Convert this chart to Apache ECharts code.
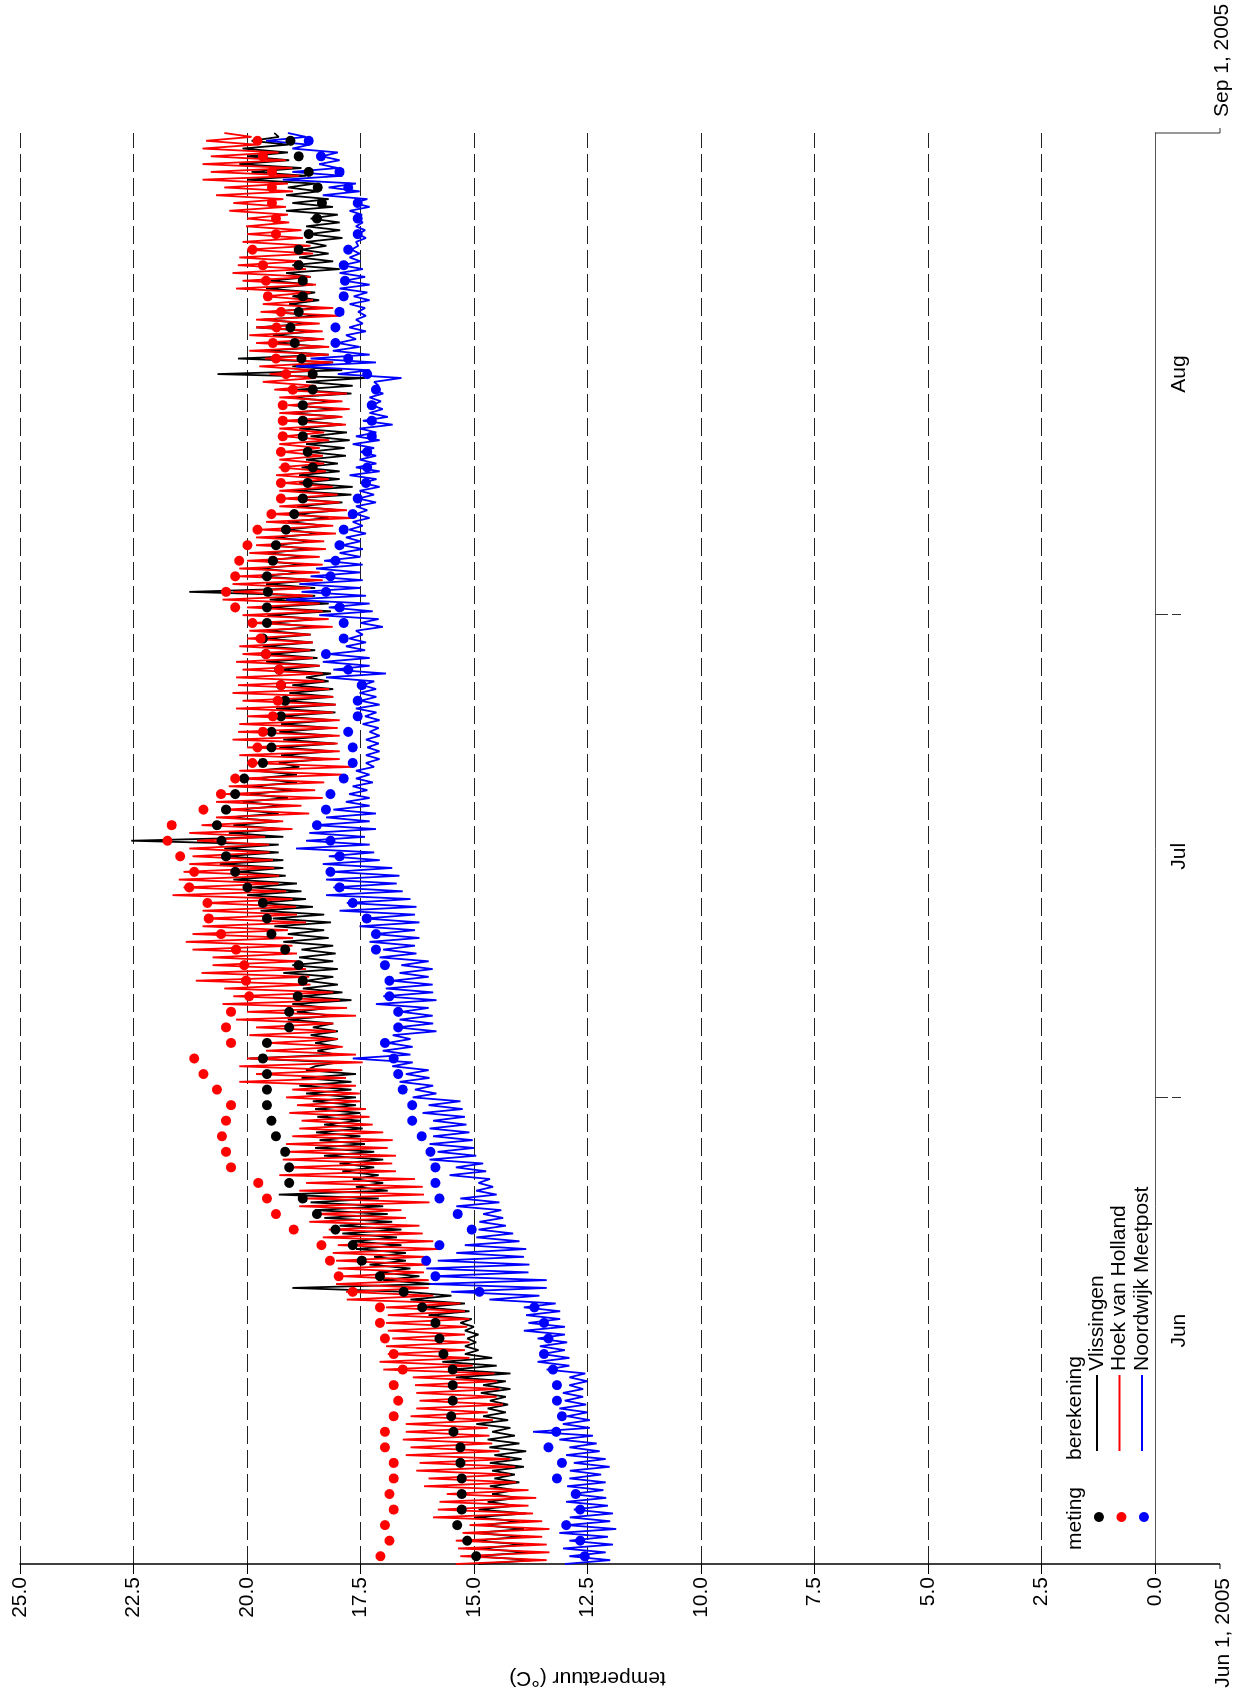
<!DOCTYPE html>
<html><head><meta charset="utf-8">
<script src="https://cdn.jsdelivr.net/npm/echarts@6/dist/echarts.min.js"></script>
<style>
html,body{margin:0;padding:0;width:1239px;height:1696px;overflow:hidden;background:#fff;}
#wrap{position:absolute;left:0;top:0;width:1696px;height:1239px;transform-origin:0 0;transform:translate(0,1696px) rotate(-90deg);}
#chart{width:1696px;height:1239px;}
</style></head><body>
<div id="wrap"><div id="chart"></div></div>
<script>
const FONT = "'Liberation Sans', Arial, Helvetica, sans-serif";
// time axis in days since Jun 1, 2005
const monthLabels = ['Jun', 'Jul', 'Aug'];
const monthCenters = [15, 45.5, 76.5];
const monthBounds = [30, 61];
const periodLabels = ['Jun 1, 2005', 'Sep 1, 2005'];
const periodDays = [0, 92];
const stepsPerDay = 4; // calculated series: one value every 6 hours
const seriesNames = ['Vlissingen', 'Hoek van Holland', 'Noordwijk Meetpost'];
const legendHeaders = ['meting', 'berekening'];
const yTitle = 'temperatuur (°C)';

// measurements (meting), one per day (noon)
const vlisMeting = [14.95,15.15,15.37,15.27,15.27,15.27,15.3,15.3,15.45,15.5,
15.47,15.47,15.47,15.67,15.76,15.85,16.14,16.55,17.07,17.47,
17.67,18.05,18.46,18.77,19.07,19.07,19.16,19.36,19.46,19.56,
19.56,19.56,19.65,19.56,19.07,19.07,18.88,18.77,18.86,19.16,
19.46,19.56,19.65,19.99,20.26,20.46,20.56,20.66,20.46,20.26,
20.06,19.65,19.46,19.46,19.25,19.16,19.25,19.29,19.58,19.65,
19.56,19.56,19.54,19.56,19.43,19.36,19.14,18.96,18.77,18.66,
18.55,18.66,18.77,18.77,18.77,18.55,18.55,18.8,18.95,19.04,
18.86,18.77,18.77,18.86,18.86,18.64,18.46,18.35,18.44,18.64,
18.86,19.04];
const hvhMeting = [17.06,16.86,16.96,16.77,16.86,16.77,16.77,16.96,16.96,16.77,
16.67,16.77,16.57,16.77,16.96,17.07,17.07,17.67,17.98,18.17,
18.36,18.97,19.36,19.56,19.75,20.35,20.46,20.55,20.46,20.35,
20.66,20.96,21.16,20.35,20.46,20.35,19.95,20.02,20.06,20.24,
20.57,20.84,20.87,21.27,21.16,21.47,21.75,21.66,20.96,20.57,
20.26,19.88,19.77,19.65,19.43,19.32,19.25,19.29,19.58,19.7,
19.88,20.26,20.46,20.26,20.17,19.99,19.77,19.46,19.25,19.25,
19.16,19.25,19.21,19.21,19.21,18.99,19.14,19.36,19.43,19.35,
19.25,19.54,19.58,19.65,19.88,19.36,19.36,19.45,19.45,19.45,
19.65,19.77];
const nwkMeting = [12.56,12.66,12.97,12.66,12.76,13.17,13.06,13.36,13.19,13.06,
13.17,13.17,13.26,13.46,13.36,13.46,13.67,14.88,15.85,16.05,
15.76,15.05,15.36,15.76,15.85,15.85,15.96,16.15,16.36,16.36,
16.57,16.67,16.77,16.96,16.67,16.67,16.86,16.86,16.96,17.16,
17.16,17.36,17.67,17.96,18.16,17.96,18.16,18.46,18.26,18.16,
17.87,17.67,17.67,17.77,17.56,17.56,17.47,17.77,18.26,17.87,
17.87,17.96,18.26,18.16,18.05,17.96,17.87,17.67,17.56,17.38,
17.35,17.35,17.25,17.25,17.25,17.16,17.35,17.77,18.05,18.05,
17.96,17.87,17.84,17.87,17.77,17.56,17.56,17.56,17.77,17.96,
18.37,18.64];

// calculations (berekening), 4 values per day
const vlisCalc = [
14.9,13.7,15.0,13.8, 14.9,13.9,15.0,13.95, 14.95,13.9,14.8,14.0, 15.0,13.85,14.9,14.1, 14.7,14.05,14.6,14.1,
14.65,14.0,14.55,14.1, 14.6,13.9,14.65,13.95, 14.55,13.85,14.66,14.0, 14.7,14.1,14.6,14.2, 14.95,14.25,14.8,14.3,
14.7,14.25,14.65,14.3, 14.85,14.2,14.8,14.3, 15.4,14.2,15.5,14.5, 15.7,14.6,15.2,14.9, 15.2,14.95,15.15,14.9,
15.2,15.0,15.3,15.05, 16.0,15.1,16.1,15.2, 16.4,15.5,16.5,19.0, 15.9,17.0,16.2,17.1, 16.4,17.3,16.5,17.2,
16.5,17.6,16.6,17.7, 16.7,17.9,16.6,17.96, 16.8,18.3,16.9,18.5, 17.0,18.6,17.1,19.3, 16.9,17.6,17.0,17.67,
17.1,17.9,17.2,17.96, 17.0,18.3,17.2,18.5, 17.4,18.4,17.5,18.48, 17.45,18.3,17.5,18.45, 17.5,18.5,17.6,18.55,
17.6,18.7,17.7,18.85, 17.7,18.8,17.6,18.7, 18.5,18.0,19.95,18.05, 18.45,17.96,18.5,18.0, 18.6,18.0,18.55,18.1,
19.1,18.1,18.9,18.2, 19.0,17.7,18.8,17.9, 18.77,18.0,18.7,18.1, 19.2,18.0,19.0,18.1, 18.85,18.05,18.8,18.1,
19.2,18.2,19.1,18.3, 19.4,18.15,19.43,18.3, 19.7,18.55,19.73,18.7, 20.0,18.8,19.9,18.9, 20.3,19.15,20.2,19.2,
20.6,19.2,20.5,19.3, 20.5,19.3,22.55,19.2, 20.4,19.2,20.3,19.3, 20.4,19.3,20.2,19.2, 20.1,19.1,19.95,19.0,
19.9,18.9,19.85,18.9, 19.8,18.85,19.3,18.3, 19.25,18.1,19.29,18.05, 19.2,18.1,19.29,18.15, 19.25,18.1,19.3,18.05,
19.36,18.05,19.2,18.1, 19.07,18.1,19.0,18.2, 18.7,18.15,19.3,18.4, 19.58,18.45,19.5,18.5, 19.65,18.55,19.6,18.6,
19.58,18.5,19.5,18.48, 19.55,18.15,19.58,18.2, 19.5,18.5,21.27,18.5, 19.58,18.5,19.7,18.8, 19.73,18.75,19.7,18.7,
19.6,18.6,19.43,18.55, 19.4,18.4,19.14,18.26, 19.1,18.2,18.92,17.96, 18.9,17.9,19.07,17.7, 19.0,17.67,18.85,17.96,
18.85,17.96,18.8,18.0, 18.7,17.82,18.65,17.85, 18.7,17.74,18.6,17.8, 18.85,17.9,18.8,17.95, 19.07,18.05,19.0,18.1,
19.07,17.7,18.9,17.67, 18.7,17.4,20.65,17.9, 19.0,18.1,20.2,18.2, 19.6,18.3,19.4,18.4, 19.43,18.55,19.8,18.6,
19.65,18.35,19.5,18.4, 19.07,18.41,19.0,18.5, 19.58,18.55,19.5,18.6, 19.14,17.96,19.0,18.1, 18.85,18.2,18.8,18.25,
18.7,17.9,18.65,17.95, 18.7,17.96,18.6,18.0, 19.14,18.11,19.0,18.2, 19.14,18.41,19.1,18.5, 20.0,18.7,19.9,18.8,
20.17,19.07,20.0,19.1, 20.1,19.1,19.9,19.3, 19.4];
const hvhCalc = [
15.4,13.4,15.3,13.34, 15.35,13.4,15.4,13.5, 15.25,13.34,15.1,13.5, 15.9,13.7,15.8,13.8, 15.76,13.63,15.6,13.8,
16.1,14.07,16.0,14.2, 16.27,14.1,16.2,14.2, 16.5,14.44,16.4,14.6, 16.57,14.66,16.5,14.7, 16.5,14.58,16.4,14.7,
16.27,14.36,16.2,14.5, 16.27,14.44,16.3,14.5, 16.35,14.55,17.0,15.03, 17.08,15.1,16.9,15.2, 16.94,15.1,16.8,15.2,
16.9,15.15,16.94,15.1, 16.9,15.2,16.94,15.3, 17.8,15.9,17.82,16.0, 18.04,16.0,17.9,16.1, 18.0,16.0,18.04,16.1,
18.11,15.76,18.0,15.9, 18.33,16.13,18.2,16.2, 18.63,16.5,18.5,16.6, 18.85,15.98,18.7,16.1, 18.85,16.13,18.7,16.3,
19.29,16.72,19.1,16.8, 19.21,16.72,19.1,16.9, 19.14,16.79,19.0,17.0, 18.85,17.23,18.8,17.3, 19.07,17.38,18.9,17.5,
19.14,17.52,19.0,17.6, 20.17,17.82,19.8,17.9, 20.17,17.45,20.0,17.6, 19.58,17.89,19.5,18.0, 19.95,18.04,19.8,18.1,
20.24,17.6,20.0,17.8, 20.54,17.96,20.3,18.1, 20.5,18.6,21.13,18.63, 21.0,18.7,20.76,18.85, 20.76,18.9,21.2,19.0,
21.35,18.99,21.2,19.1, 20.98,18.7,20.9,18.9, 20.98,18.92,20.9,19.0, 21.64,19.14,21.4,19.3, 21.5,19.29,21.4,19.4,
21.27,19.43,21.2,19.5, 21.27,19.51,21.1,19.6, 21.27,19.0,21.0,19.2, 20.68,18.63,20.5,18.8, 20.68,18.33,20.5,18.5,
20.4,18.3,20.17,17.9, 20.17,17.67,20.0,17.96, 20.17,17.96,20.0,18.0, 20.32,17.96,20.2,18.0, 20.17,17.96,20.0,18.1,
20.24,18.04,20.1,18.1, 20.32,18.19,20.2,18.3, 20.24,18.33,20.1,18.4, 20.24,18.55,20.1,18.6, 20.17,18.55,20.0,18.6,
19.95,18.11,19.9,18.2, 20.1,18.33,20.0,18.4, 20.54,18.55,20.3,18.6, 20.32,18.33,20.2,18.4, 20.17,18.33,20.0,18.4,
19.95,18.26,19.8,18.3, 19.8,18.04,19.7,18.1, 19.58,17.67,19.5,17.8, 19.29,17.96,19.2,18.0, 19.29,18.11,19.2,18.2,
19.36,18.26,19.3,18.3, 19.29,18.33,19.2,18.4, 19.29,18.19,19.2,18.3, 19.29,17.82,19.2,17.9, 19.29,17.74,19.1,17.9,
19.29,17.8,19.4,18.48, 19.65,18.48,19.5,18.5, 19.73,18.11,19.6,18.2, 19.95,18.19,19.8,18.3, 19.95,18.33,19.8,18.4,
19.8,17.96,19.7,18.1, 19.65,18.55,19.6,18.6, 20.24,18.48,20.1,18.6, 20.32,18.7,20.2,18.8, 20.17,18.55,20.0,18.6,
20.1,18.77,20.0,18.8, 20.02,19.07,20.0,19.1, 20.39,19.14,20.3,19.2, 20.68,18.99,20.5,19.1, 20.98,18.85,20.8,19.0,
20.98,19.14,20.8,19.3, 20.98,19.8,20.9,19.9, 20.5];
const nwkCalc = [
13.0,12.0,12.9,12.1, 13.04,11.94,12.9,12.05, 13.12,11.87,12.95,12.0, 12.89,11.94,12.8,12.05, 12.97,12.09,12.85,12.15,
12.95,12.1,12.9,12.2, 12.89,12.01,12.8,12.1, 12.97,12.23,12.9,12.3, 13.12,12.38,13.7,12.45, 13.04,12.45,12.95,12.5,
13.12,12.53,13.0,12.6, 13.04,12.6,12.9,12.5, 12.9,12.55,13.4,12.9, 13.6,12.9,13.5,13.0, 13.55,12.95,13.6,13.0,
13.9,13.0,13.8,13.1, 13.85,13.1,13.9,13.2, 14.66,13.56,15.5,13.4, 15.98,13.4,15.9,13.8, 16.05,13.78,15.8,13.9,
15.39,13.85,15.2,14.0, 14.95,14.14,14.9,14.3, 14.88,14.36,14.8,14.4, 15.39,14.44,15.3,14.5, 14.95,14.58,14.9,14.65,
15.54,14.73,15.4,14.8, 15.98,14.95,15.8,15.0, 15.98,15.03,15.9,15.1, 15.98,15.17,15.9,15.2, 16.13,15.25,16.0,15.3,
16.35,15.83,16.3,15.9, 16.64,15.98,16.5,16.0, 16.8,16.35,17.67,16.4, 17.01,16.35,16.9,16.4, 16.79,15.83,16.7,15.9,
16.64,15.91,16.6,16.0, 17.16,15.83,17.0,15.9, 16.94,15.91,16.8,16.0, 16.64,15.91,16.6,16.0, 17.08,16.27,17.0,16.3,
17.3,16.2,17.2,16.3, 17.52,16.2,17.4,16.3, 17.96,16.27,17.8,16.4, 18.26,16.57,18.1,16.7, 18.26,16.64,18.1,16.8,
18.33,17.08,18.2,17.2, 18.92,17.3,18.7,17.4, 18.63,17.16,18.5,17.3, 18.26,17.16,18.1,17.3, 17.82,17.3,17.75,17.35,
17.67,17.23,17.6,17.3, 17.6,17.2,17.38,17.08, 17.38,17.08,17.35,17.1, 17.38,17.08,17.3,17.1, 17.45,17.08,17.4,17.15,
17.6,17.08,17.5,17.15, 17.52,17.16,17.45,17.2, 18.26,16.94,18.1,17.3, 18.33,17.3,18.2,17.4, 17.82,17.38,17.75,17.45,
17.6,17.01,17.5,17.1, 18.41,17.23,18.2,17.3, 19.14,17.38,18.8,17.5, 18.85,17.45,18.6,17.5, 18.48,17.45,18.3,17.5,
17.96,17.45,17.9,17.5, 17.82,17.38,17.75,17.45, 17.67,17.3,17.6,17.35, 17.6,17.16,17.55,17.2, 17.52,17.08,17.45,17.15,
17.74,17.08,17.6,17.15, 17.52,17.16,17.5,17.2, 17.67,17.08,17.6,17.15, 17.52,16.79,17.45,16.9, 17.3,17.01,17.25,17.05,
17.3,17.0,17.25,17.1, 17.2,16.6,18.0,17.3, 18.92,17.16,18.6,17.3, 18.11,17.52,18.0,17.6, 17.82,17.38,17.75,17.45,
17.6,17.38,17.55,17.4, 17.74,17.3,17.65,17.35, 17.96,17.3,17.85,17.4, 17.96,17.45,17.9,17.5, 17.74,17.52,17.7,17.55,
17.6,17.38,17.55,17.4, 17.6,17.45,17.58,17.47, 17.74,17.3,17.65,17.35, 18.33,17.52,18.2,17.6, 19.21,17.89,19.0,18.0,
18.41,17.96,18.35,18.0, 19.0,18.63,19.58,18.7, 19.1];

const colors = ['#000000', '#ff0000', '#0000ff'];
const calcArrays = [vlisCalc, hvhCalc, nwkCalc];
const metingArrays = [vlisMeting, hvhMeting, nwkMeting];

const lineData = arr => arr.map((v, i) => [i / stepsPerDay, v]);
const dotData = arr => arr.map((v, i) => [i + 0.5, v]);

const series = [];
calcArrays.forEach((arr, k) => series.push({
  name: seriesNames[k] + ' berekening', type: 'line', data: lineData(arr),
  showSymbol: false, symbol: 'none', lineStyle: { color: colors[k], width: 1.8 },
  itemStyle: { color: colors[k] }, z: 2, animation: false
}));
metingArrays.forEach((arr, k) => series.push({
  name: seriesNames[k] + ' meting', type: 'scatter', data: dotData(arr),
  symbol: 'circle', symbolSize: 10, itemStyle: { color: colors[k], opacity: 1 }, z: 3, animation: false
}));

const chart = echarts.init(document.getElementById('chart'), null, { renderer: 'canvas', width: 1696, height: 1239 });
chart.setOption({
  animation: false,
  textStyle: { fontFamily: FONT },
  grid: { left: 125, right: 133, top: 20, bottom: 84, containLabel: false },
  xAxis: {
    type: 'value', min: 0, max: 92,
    axisLine: { show: true, onZero: false, lineStyle: { color: '#555', width: 1 } },
    axisTick: { show: true, customValues: monthBounds, length: 26, lineStyle: { color: '#333', width: 1, type: [13, 4] } },
    axisLabel: { customValues: monthCenters, formatter: (v, i) => monthLabels[monthCenters.indexOf(v)] || monthLabels[i] || '',
      fontSize: 21, color: '#000', margin: 14, fontFamily: FONT },
    splitLine: { show: false }
  },
  yAxis: {
    type: 'value', min: 0, max: 25, interval: 2.5,
    axisLine: { show: true, lineStyle: { color: '#000', width: 1.5 } },
    axisTick: { show: true, length: 10, lineStyle: { color: '#000', width: 1 } },
    axisLabel: { formatter: v => v.toFixed(1), fontSize: 21, color: '#000', margin: 13, fontFamily: FONT },
    splitLine: { show: true, lineStyle: { color: '#222', width: 1, type: [18, 6] } },
    name: yTitle, nameLocation: 'middle', nameGap: 103, nameRotate: 90,
    nameTextStyle: { fontSize: 21, color: '#000', fontFamily: FONT }
  },
  series: series
});

// period bracket below the time axis and legend
const pStart = chart.convertToPixel({ gridIndex: 0 }, [periodDays[0], 0]);
const pEnd = chart.convertToPixel({ gridIndex: 0 }, [periodDays[1], 0]);
const bracketY = pStart[1] + 65;
const fontStr = '21px ' + FONT;
const g = [];
g.push({ type: 'line', shape: { x1: pStart[0], y1: pStart[1], x2: pStart[0], y2: bracketY }, style: { stroke: '#000', lineWidth: 1.5 }, z: 10 });
g.push({ type: 'line', shape: { x1: pStart[0], y1: bracketY, x2: pStart[0] - 5, y2: bracketY }, style: { stroke: '#000', lineWidth: 1 }, z: 10 });
g.push({ type: 'text', style: { text: periodLabels[0], x: pStart[0] - 14, y: bracketY + 3, font: fontStr, fill: '#000', align: 'right', verticalAlign: 'middle', textAlign: 'right', textVerticalAlign: 'middle' }, z: 10 });
g.push({ type: 'line', shape: { x1: pEnd[0], y1: pEnd[1], x2: pEnd[0], y2: bracketY }, style: { stroke: '#333', lineWidth: 1 }, z: 10 });
g.push({ type: 'line', shape: { x1: pEnd[0], y1: bracketY, x2: pEnd[0] + 5, y2: bracketY }, style: { stroke: '#333', lineWidth: 1 }, z: 10 });
g.push({ type: 'text', style: { text: periodLabels[1], x: pEnd[0] + 16, y: bracketY + 2, font: fontStr, fill: '#000', align: 'left', verticalAlign: 'middle', textAlign: 'left', textVerticalAlign: 'middle' }, z: 10 });

// legend block (lower-left inside plot)
const lgX = pStart[0] + 14;
const headerY = pStart[1] - 80;
const rowY0 = pStart[1] - 58, rowStep = 22.5;
g.push({ type: 'text', style: { text: legendHeaders[0], x: lgX, y: headerY, font: fontStr, fill: '#000', align: 'left', verticalAlign: 'middle', textAlign: 'left', textVerticalAlign: 'middle' }, z: 10 });
g.push({ type: 'text', style: { text: legendHeaders[1], x: lgX + 90, y: headerY, font: fontStr, fill: '#000', align: 'left', verticalAlign: 'middle', textAlign: 'left', textVerticalAlign: 'middle' }, z: 10 });
seriesNames.forEach((nm, k) => {
  const y = rowY0 + k * rowStep;
  g.push({ type: 'circle', shape: { cx: lgX + 33, cy: y + 2, r: 5 }, style: { fill: colors[k] }, z: 10 });
  g.push({ type: 'line', shape: { x1: lgX + 99, y1: y, x2: lgX + 175, y2: y }, style: { stroke: colors[k], lineWidth: 2 }, z: 10 });
  g.push({ type: 'text', style: { text: nm, x: lgX + 179, y: y, font: fontStr, fill: '#000', align: 'left', verticalAlign: 'middle', textAlign: 'left', textVerticalAlign: 'middle' }, z: 10 });
});
chart.setOption({ graphic: g });
</script></body></html>
